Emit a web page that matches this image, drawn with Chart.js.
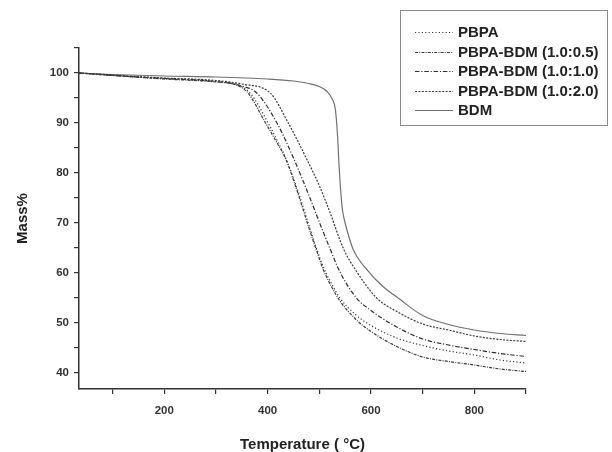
<!DOCTYPE html>
<html>
<head>
<meta charset="utf-8">
<script src="https://cdn.jsdelivr.net/npm/chart.js@4/dist/chart.umd.min.js"></script>
<style>
  html, body { margin: 0; padding: 0; background: #fff; }
  #wrap { width: 612px; height: 452px; }
</style>
</head>
<body>
<div id="wrap"><canvas id="tga" width="612" height="452"></canvas></div>
<script>
// ── TGA curves: temperature (°C) vs mass (%) ───────────────
const seriesNames = ['PBPA', 'PBPA-BDM (1.0:0.5)', 'PBPA-BDM (1.0:1.0)', 'PBPA-BDM (1.0:2.0)', 'BDM'];

const pbpaTemp = [35, 130, 200, 300, 340, 366, 401, 420, 437, 460, 480, 495, 508, 525, 540, 570, 600, 650, 700, 750, 800, 850, 900];
const pbpaMass = [100, 99.3, 98.9, 98.3, 97.7, 96, 90, 86.2, 82.5, 76, 69.5, 64.8, 61.2, 57.6, 55, 51.7, 49.5, 47, 45.5, 44.4, 43.6, 42.6, 42];

const r05Temp = [35, 130, 200, 300, 340, 362, 396, 415, 435, 460, 480, 495, 508, 525, 540, 570, 600, 650, 700, 750, 800, 850, 900];
const r05Mass = [100, 99.3, 98.8, 98.2, 97.6, 96, 90, 86.6, 82.8, 75.5, 69, 64.4, 60.6, 57, 54.4, 50.8, 48.3, 45.3, 43.2, 42.3, 41.6, 40.8, 40.3];

const r10Temp = [35, 130, 200, 300, 350, 379, 418, 450, 480, 500, 521, 540, 572, 600, 650, 700, 750, 800, 850, 900];
const r10Mass = [100, 99.3, 98.9, 98.3, 97.4, 96, 90, 83, 75.5, 70.2, 64.8, 60.2, 55, 52.5, 49.2, 46.8, 45.6, 44.7, 43.9, 43.3];

const r20Temp = [35, 130, 200, 300, 350, 405, 440, 476, 500, 520, 547, 569, 611, 650, 700, 750, 800, 850, 900];
const r20Mass = [100, 99.4, 99, 98.5, 97.8, 96, 90, 82.7, 77.5, 72.3, 64.8, 60.8, 55, 52.3, 49.8, 48.6, 47.4, 46.7, 46.3];

const bdmTemp = [35, 100, 200, 300, 400, 450, 480, 500, 515, 525, 531, 535, 538, 541, 545, 550, 558, 566, 580, 592, 610, 630, 650, 700, 750, 800, 850, 900];
const bdmMass = [100, 99.7, 99.4, 99.2, 98.8, 98.4, 97.9, 97.3, 96.3, 94.8, 92.8, 88, 82, 77, 72.5, 70, 67, 64.6, 62.2, 60.7, 58.6, 56.7, 55.2, 51.5, 49.7, 48.6, 47.9, 47.5];

const xTicks = [100, 200, 300, 400, 500, 600, 700, 800, 900];
const yTicks = [40, 45, 50, 55, 60, 65, 70, 75, 80, 85, 90, 95, 100, 105];

// ── Helpers ────────────────────────────────────────────────
function toPoints(temps, masses) {
  return temps.map((t, i) => ({ x: t, y: masses[i] }));
}

function curve(label, temps, masses, dash, color, width) {
  return {
    label,
    data: toPoints(temps, masses),
    borderColor: color,
    borderWidth: width,
    borderDash: dash,
    pointRadius: 0,
    fill: false,
    cubicInterpolationMode: 'monotone',
  };
}

const datasets = [
  curve(seriesNames[0], pbpaTemp, pbpaMass, [1.2, 2.2], '#3a3a3a', 1.2),
  curve(seriesNames[1], r05Temp, r05Mass, [3, 1.2, 1, 1.2], '#3a3a3a', 1.2),
  curve(seriesNames[2], r10Temp, r10Mass, [4.5, 1.8, 1.2, 1.8], '#2e2e2e', 1.2),
  curve(seriesNames[3], r20Temp, r20Mass, [2, 1.4], '#3a3a3a', 1.2),
  curve(seriesNames[4], bdmTemp, bdmMass, [], '#707070', 1.2),
];

// ── Boxed legend in the upper right ───────────────────────
const boxLegend = {
  id: 'boxLegend',
  afterDraw(chart) {
    const ctx = chart.ctx;
    ctx.save();
    ctx.strokeStyle = '#8a8a8a';
    ctx.lineWidth = 1;
    ctx.strokeRect(400.5, 10.5, 207, 115);
    ctx.font = 'bold 15px "Liberation Sans", Arial, sans-serif';
    ctx.textBaseline = 'middle';
    chart.data.datasets.forEach((ds, i) => {
      const y = 32 + i * 19.5;
      ctx.strokeStyle = ds.borderColor;
      ctx.lineWidth = ds.borderWidth;
      ctx.setLineDash(ds.borderDash);
      ctx.beginPath();
      ctx.moveTo(415, Math.round(y) + 0.5);
      ctx.lineTo(453, Math.round(y) + 0.5);
      ctx.stroke();
      ctx.setLineDash([]);
      ctx.fillStyle = '#222';
      ctx.fillText(ds.label, 458, y + 1);
    });
    ctx.restore();
  },
};

const axisColor = '#333';
const tickFont = { family: '"Liberation Sans", Arial, sans-serif', size: 11.5, weight: 'bold' };
const titleFont = { family: '"Liberation Sans", Arial, sans-serif', size: 15, weight: 'bold', lineHeight: 1 };

new Chart(document.getElementById('tga'), {
  type: 'line',
  data: { datasets },
  plugins: [boxLegend],
  options: {
    responsive: false,
    animation: false,
    layout: { padding: { top: 48, right: 86, left: 0, bottom: 0 } },
    plugins: { legend: { display: false }, tooltip: { enabled: false } },
    scales: {
      x: {
        type: 'linear',
        min: 35,
        max: 900,
        afterBuildTicks: (scale) => { scale.ticks = xTicks.map(v => ({ value: v })); },
        afterFit: (scale) => { scale.height = 63; },
        border: { color: axisColor, width: 1.5 },
        grid: { drawOnChartArea: false, tickLength: 5, color: axisColor, lineWidth: 1.2 },
        ticks: {
          color: '#333',
          font: tickFont,
          padding: 10,
          maxRotation: 0,
          autoSkip: false,
          callback: (v) => (v % 200 === 0 ? v : ''),
        },
        title: {
          display: true,
          text: 'Temperature ( °C)',
          color: '#222',
          font: titleFont,
          padding: { top: 0, bottom: 0 },
        },
      },
      y: {
        min: 36.8,
        max: 105,
        afterBuildTicks: (scale) => { scale.ticks = yTicks.map(v => ({ value: v })); },
        afterFit: (scale) => { scale.width = 79; },
        border: { color: axisColor, width: 1.5 },
        grid: { drawOnChartArea: false, tickLength: 5, color: axisColor, lineWidth: 1.2 },
        ticks: {
          color: '#333',
          font: tickFont,
          padding: 5,
          autoSkip: false,
          callback: (v) => (v % 10 === 0 && v <= 100 ? v : ''),
        },
        title: {
          display: true,
          text: 'Mass%',
          color: '#222',
          font: titleFont,
          padding: { top: 15, bottom: 0 },
        },
      },
    },
  },
});
</script>
</body>
</html>
